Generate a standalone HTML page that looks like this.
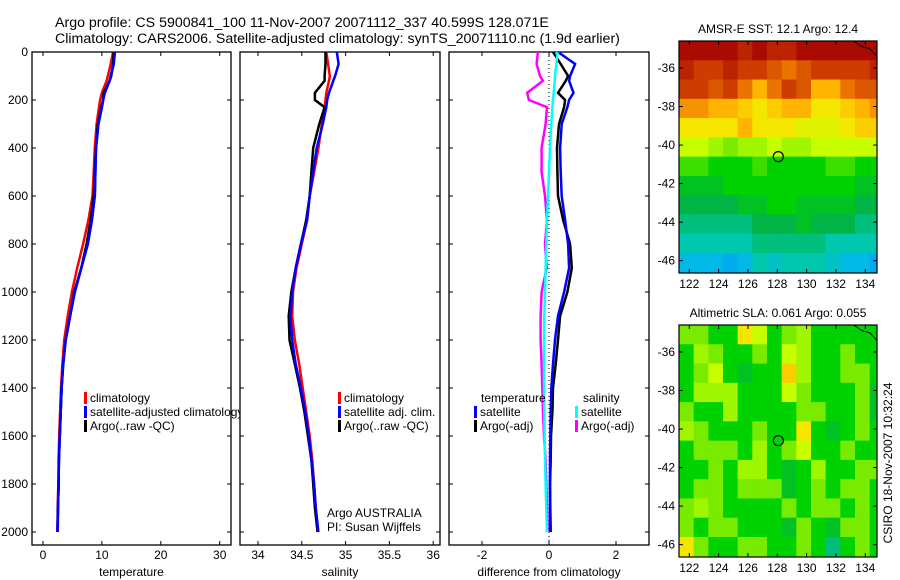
<!DOCTYPE html>
<html><head><meta charset="utf-8">
<style>
body{margin:0;background:#fff;}
svg{display:block;font-family:"Liberation Sans",sans-serif;}
text{font-size:12px;fill:#000;}
</style></head>
<body>
<svg id="fig" width="900" height="580" viewBox="0 0 900 580">
<defs><clipPath id="clip1"><rect x="32" y="52" width="208" height="493"/></clipPath></defs>
<text x="55" y="27" style="font-size:14.2px">Argo profile: CS 5900841_100 11-Nov-2007 20071112_337 40.599S 128.071E</text>
<text x="55" y="43" style="font-size:14.2px">Climatology: CARS2006. Satellite-adjusted climatology: synTS_20071110.nc (1.9d earlier)</text>
<g id="plots"></g>
</svg>
<script>
// ---- data ----
const pressure = [0,50,100,120,170,200,230,300,400,500,600,700,800,900,1000,1100,1200,1300,1400,1500,1600,1700,1800,1900,2000];
const tempClim = [11.9,11.5,11.0,10.8,10.0,9.7,9.5,9.1,8.8,8.6,8.4,7.7,6.8,5.8,4.9,4.2,3.6,3.3,3.05,2.9,2.75,2.65,2.6,2.5,2.45];
const tempSat  = [12.2,12.0,11.5,11.3,10.5,10.2,10.0,9.4,9.0,8.9,8.8,8.3,7.6,6.5,5.4,4.6,3.85,3.4,3.15,3.0,2.85,2.7,2.65,2.55,2.45];
const tempArgo = [12.0,11.9,11.6,11.3,10.3,10.2,9.9,9.3,9.0,8.8,8.6,8.1,7.4,6.5,5.3,4.6,3.85,3.45,3.15,3.0,2.85,2.7,2.65,2.55,2.5];
const salClim  = [34.78,34.80,34.82,34.81,34.78,34.77,34.76,34.73,34.69,34.64,34.59,34.56,34.50,34.44,34.40,34.39,34.42,34.47,34.51,34.55,34.59,34.62,34.64,34.66,34.68];
const salSat   = [34.90,34.92,34.88,34.86,34.81,34.79,34.78,34.74,34.67,34.63,34.59,34.56,34.49,34.43,34.39,34.37,34.39,34.43,34.49,34.54,34.58,34.61,34.64,34.66,34.69];
const salArgo  = [34.77,34.77,34.76,34.76,34.65,34.65,34.76,34.70,34.63,34.61,34.59,34.55,34.49,34.43,34.38,34.35,34.36,34.42,34.48,34.53,34.57,34.61,34.63,34.65,34.68];
const dTempSat  = [0.27,0.78,0.63,0.6,0.73,0.6,0.55,0.38,0.33,0.35,0.38,0.48,0.57,0.6,0.45,0.27,0.18,0.12,0.07,0.05,0.04,0.03,0.03,0.03,0.03];
const dTempArgo = [0.12,0.35,0.57,0.5,0.27,0.48,0.45,0.3,0.24,0.25,0.27,0.42,0.63,0.68,0.55,0.33,0.27,0.2,0.12,0.1,0.06,0.05,0.03,0.04,0.05];
const dSalSat   = [0.25,0.22,0.18,0.17,0.14,0.12,0.1,0.07,0.03,0.0,-0.03,-0.06,-0.08,-0.1,-0.12,-0.14,-0.15,-0.15,-0.15,-0.14,-0.13,-0.12,-0.1,-0.08,-0.06];
const dSalArgo  = [-0.33,-0.37,-0.27,-0.18,-0.65,-0.6,-0.06,-0.1,-0.22,-0.22,-0.12,-0.06,-0.12,-0.07,-0.22,-0.25,-0.25,-0.22,-0.2,-0.18,-0.15,-0.1,-0.08,-0.06,-0.05];
const pressureTicks = [0,200,400,600,800,1000,1200,1400,1600,1800,2000];
const tempTicks = [0,10,20,30];
const salTicks = [34,34.5,35,35.5,36];
const diffTicks = [-2,0,2];
const lonTicks = [122,124,126,128,130,132,134];
const latTicks = [-36,-38,-40,-42,-44,-46];
const floatLon = 128.07, floatLat = -40.6;
// map grids: rows from north (-34.6) southwards, 1 degree cells, cols from 121.3 eastwards
const sstGrid = [
[10,10,10,10,9.5,10,9.5,9.5,10,10,10,10,10,10],
[9.5,9,9,9.5,9,9,8.5,8,8.5,9,9,9,9,9.5],
[9,9,8.5,9,8,7,8,9,8.5,7,7,8,8.5,8.5],
[7.5,7.5,7,7,6.5,6,6.5,7,7,6,6,6.5,7,7.5],
[6,6,6,6,7,6,6,6,5.5,5.5,5.5,6,6.5,6.5],
[5,5,4.5,4,4.5,4.5,5,4.5,4.5,5,5,5,5,5],
[3.5,3.5,3,3,3,3.5,3,3,3,3,3.5,3.5,3,3],
[2.5,2.5,2.5,3,3,3,3,3,3,3,3,3,2.5,2.5],
[2,2,2,2,2.5,2.5,3,3,2.5,2.5,2.5,2.5,2,2],
[1.5,1.5,1.5,1.5,1.5,2,2,2,2.5,2,2,2,1.5,1.5],
[1,1,1,1,1,1.5,1.5,1.5,1.5,1.5,1,1,1,1],
[0.5,0.5,0.5,0.3,0.5,1,0.8,1,1,1,0.8,0.5,0.5,0.3]];
const slaGrid = [
[4,4,3,3,6,5,3,4,4.5,3,3,3,3,3],
[3,4.5,4,3,3,4,3,5,4.5,3,3,4,3,3],
[3,4,5,3,2.5,3,3,6.5,4.5,3,3,4,4,3],
[3,4.5,4.5,4.5,3,3,3,5,4,3,3,3,4,2.5],
[4,3,3,4.5,3,3,3,3,4,4,3,3,4,2.5],
[4.5,4,3,3,3,4,3,3,6,3,2.5,3,4,3],
[3,4,4,4,3,4.5,3,4,5,3,3,4,3,3],
[3,3,4,3,4.5,4.5,3,2.5,3,4.5,3,3,4,4],
[3,4,4,3,4,4,4,2.5,3,4,3,4,4,3],
[4,4.5,4,3,3,3,3,4,3,4,4,3,4,3],
[4,3,4,4,3,3,3,2.5,4,3,2.5,4,4,3],
[6,4,3,3,4,4,3,3,4,3,1.5,3,4,3]];

const NS='http://www.w3.org/2000/svg';
const root=document.getElementById('plots');
function mk(tag,attrs,parent){const e=document.createElementNS(NS,tag);for(const k in attrs)e.setAttribute(k,attrs[k]);(parent||root).appendChild(e);return e;}
function txt(x,y,s,anchor,parent){const t=mk('text',{x:x,y:y,'text-anchor':anchor||'start'},parent);t.textContent=s;return t;}

const yP=p=>52+0.24*p;
const xT=t=>43+5.89*t;
const xS=s=>258+87.6*(s-34);
const xD=d=>549+33.5*d;

function panel(x0,x1,name,xf,xticks,xlabel){
  const g=mk('g',{});
  
  
  const r=mk('rect',{x:x0,y:52,width:x1-x0,height:493,fill:'none',stroke:'#000','stroke-width':1.3},g);
  
  
  pressureTicks.forEach(p=>{
    mk('line',{x1:x0,x2:x0+4,y1:yP(p),y2:yP(p),stroke:'#000'},g);
    mk('line',{x1:x1-4,x2:x1,y1:yP(p),y2:yP(p),stroke:'#000'},g);
  });
  xticks.forEach(v=>{
    const X=xf(v);
    mk('line',{x1:X,x2:X,y1:545,y2:541,stroke:'#000'},g);
    mk('line',{x1:X,x2:X,y1:52,y2:56,stroke:'#000'},g);
    const t=txt(X,559,String(v),'middle',g);
    
    
  });
  const xl=txt((x0+x1)/2,576,xlabel,'middle',g);
  
  
  return g;
}
function series(vals,xf,color,name,g){
  const pts=vals.map((v,i)=>xf(v).toFixed(1)+','+yP(pressure[i]).toFixed(1)).join(' ');
  const l=mk('polyline',{points:pts,fill:'none',stroke:color,'stroke-width':2.5,'stroke-linejoin':'miter'},g);
  
  
}
function legend(x,y,color,label,g){
  if(color){const m=mk('rect',{x:x,y:y-10,width:3,height:12,fill:color},g);
    
    }
  const t=txt(x+6,y,label,'start',g);
  
  
  return t;
}

pressureTicks.forEach(p=>{const t=txt(28,yP(p)+4,String(p),'end');
  
  });

// panel 1
const g1=panel(32,231,'temperature-panel',xT,tempTicks,'temperature');
series(tempClim,xT,'#f00','temp-climatology-line',g1);
series(tempSat,xT,'#00f','temp-satellite-line',g1);
series(tempArgo,xT,'#000','temp-argo-line',g1);
series(tempSat,xT,'#00f','temp-satellite-line-top',g1);
legend(84,402,'#f00','climatology',g1);
const l1=legend(84,416,'#00f','satellite-adjusted climatology',g1);
l1.setAttribute('clip-path','url(#clip1)');
legend(84,430,'#000','Argo(..raw -QC)',g1);

// panel 2
const g2=panel(240,440,'salinity-panel',xS,salTicks,'salinity');
series(salClim,xS,'#f00','sal-climatology-line',g2);
series(salArgo,xS,'#000','sal-argo-line',g2);
series(salSat,xS,'#00f','sal-satellite-line',g2);
legend(338,402,'#f00','climatology',g2);
legend(338,416,'#00f','satellite adj. clim.',g2);
legend(338,430,'#000','Argo(..raw -QC)',g2);
const a1=txt(327,517,'Argo AUSTRALIA','start',g2);


const a2=txt(327,531,'PI: Susan Wijffels','start',g2);



// panel 3
const g3=panel(449,649,'difference-panel',xD,diffTicks,'difference from climatology');
const zl=mk('line',{x1:xD(0),x2:xD(0),y1:52,y2:545,stroke:'#000','stroke-dasharray':'1,3'},g3);


series(dSalArgo,xD,'#f0f','sal-argo-diff-line',g3);
series(dTempArgo,xD,'#000','temp-argo-diff-line',g3);
series(dTempSat,xD,'#00f','temp-satellite-diff-line',g3);
series(dSalSat,xD,'#0ff','sal-satellite-diff-line',g3);
legend(475,402,null,'temperature',g3);
legend(474,416,'#00f','satellite',g3);
legend(474,430,'#000','Argo(-adj)',g3);
legend(577,402,null,'salinity',g3);
legend(575,416,'#0ff','satellite',g3);
legend(575,430,'#f0f','Argo(-adj)',g3);

// colormap
const cmap=[[0,[0,150,255]],[0.5,[0,185,230]],[1,[0,200,175]],[2,[0,180,70]],[3,[0,210,0]],[4,[120,235,0]],[5,[200,255,0]],[6,[245,230,0]],[7,[255,180,0]],[8,[235,115,0]],[9,[205,60,0]],[10,[170,10,0]]];
function col(v){for(let i=1;i<cmap.length;i++){if(v<=cmap[i][0]){const [a,ca]=cmap[i-1],[b,cb]=cmap[i];const f=(v-a)/(b-a);return 'rgb('+ca.map((c,k)=>Math.round(c+(cb[k]-c)*f)).join(',')+')';}}return 'rgb(170,10,0)';}

function map(top,grid,title,name){
  const L=679,R=877,B=top+232;
  const lon0=121.3,lon1=134.8,lat0=-34.6,lat1=-46.64;
  const xL=lo=>L+(lo-lon0)/(lon1-lon0)*(R-L);
  const yL=la=>top+(la-lat0)/(lat1-lat0)*(B-top);
  const g=mk('g',{});
  
  
  grid.forEach((row,r)=>row.forEach((v,c)=>{
    const x=xL(lon0+c),y=yL(lat0-r);
    const w=Math.min(xL(lon0+c+1),R)-x, h=Math.min(yL(lat0-r-1),B)-y;
    const cell=mk('rect',{x:x,y:y,width:w+0.5,height:h+0.5,fill:col(v)},g);
    
    
  }));
  const fr=mk('rect',{x:L,y:top,width:R-L,height:B-top,fill:'none',stroke:'#000','stroke-width':1.2},g);
  
  
  const coast=mk('polyline',{points:xL(133.2)+','+yL(-34.6)+' '+xL(133.8)+','+yL(-34.9)+' '+xL(134.3)+','+yL(-35.0)+' '+xL(134.8)+','+yL(-35.4),fill:'none',stroke:'#000','stroke-width':1},g);
  
  
  const c=mk('circle',{cx:xL(floatLon),cy:yL(floatLat),r:5,fill:'none',stroke:'#000','stroke-width':1.2},g);
  
  
  lonTicks.forEach(lo=>{const X=xL(lo);
    mk('line',{x1:X,x2:X,y1:top,y2:top+4,stroke:'#000'},g);
    mk('line',{x1:X,x2:X,y1:B,y2:B-4,stroke:'#000'},g);
    const t=txt(X,B+15,String(lo),'middle',g);
    
    });
  latTicks.forEach(la=>{const Y=yL(la);
    mk('line',{x1:L,x2:L+4,y1:Y,y2:Y,stroke:'#000'},g);
    mk('line',{x1:R,x2:R-4,y1:Y,y2:Y,stroke:'#000'},g);
    const t=txt(L-4,Y+4,String(la),'end',g);
    
    });
  const tt=txt((L+R)/2,top-8,title,'middle',g);
  
  
}
map(41,sstGrid,'AMSR-E SST: 12.1  Argo: 12.4','sst-map');
map(325,slaGrid,'Altimetric SLA: 0.061  Argo: 0.055','sla-map');
const cs=txt(0,0,'CSIRO 18-Nov-2007 10:32:24','middle');
cs.setAttribute('transform','translate(892,463) rotate(-90)');


</script>
</body></html>
